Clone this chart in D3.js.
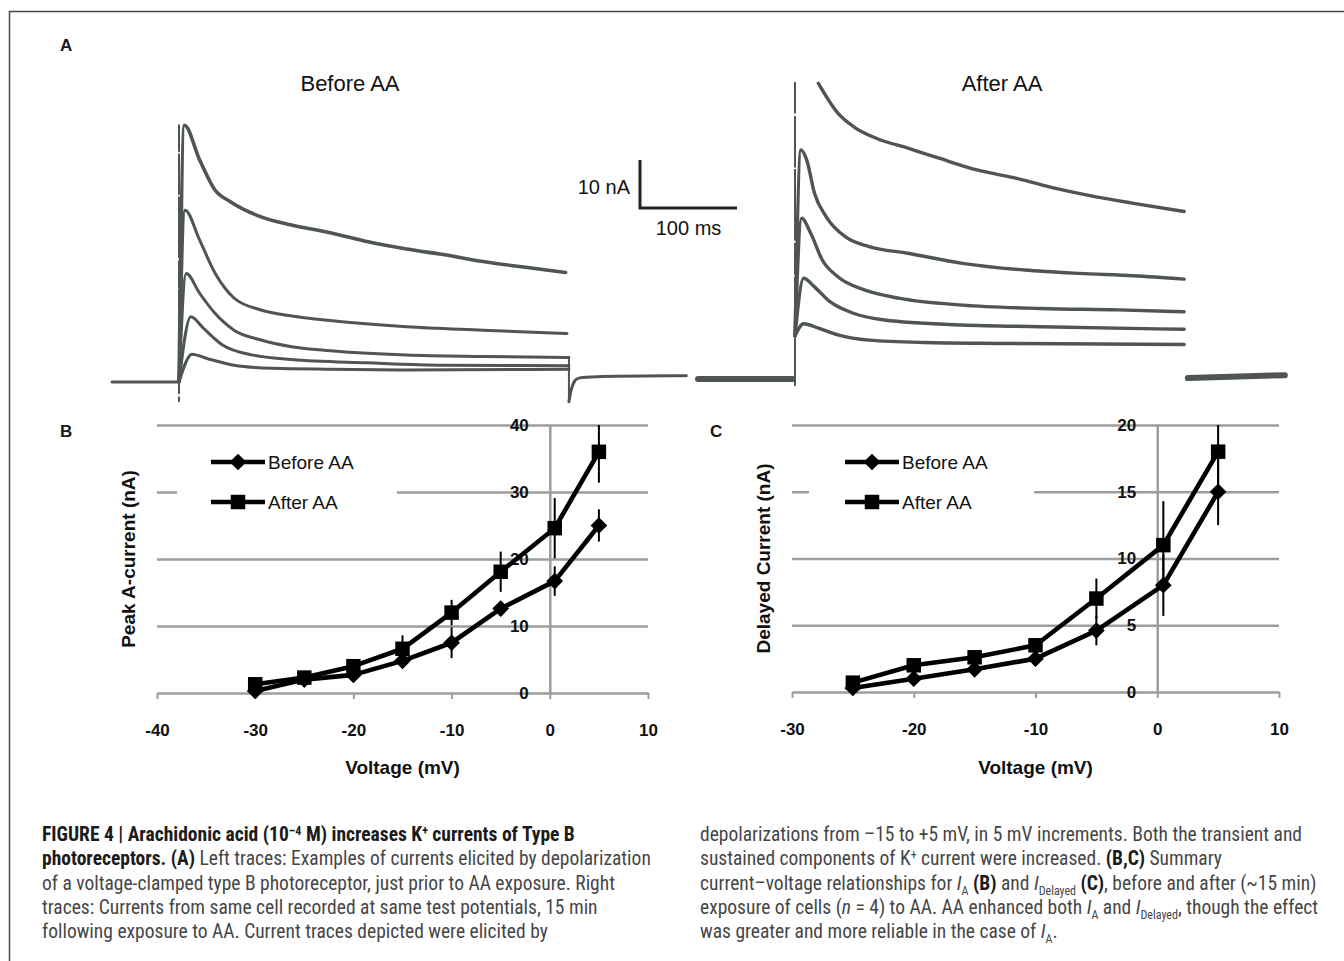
<!DOCTYPE html>
<html><head><meta charset="utf-8">
<script src="https://cdn.jsdelivr.net/npm/d3@7"></script>
<style>
body{margin:0;background:#fff;}
svg{display:block;font-family:"Liberation Sans",Arial,sans-serif;}
.cap{font-family:"Liberation Sans Narrow","Roboto Condensed","Arial Narrow",sans-serif;font-size:19.5px;fill:#464646;white-space:pre;}
</style></head><body>
<svg id="fig" width="1344" height="961"></svg>
<script>
// ---------- I-V summary data (panel B: peak A-current) ----------
const voltsB = [-30, -25, -20, -15, -10, -5, 0.5, 5];
const beforeB = [0.3, 2.0, 2.7, 4.8, 7.5, 12.6, 16.7, 25.0];
const afterB = [1.3, 2.3, 4.0, 6.6, 12.0, 18.1, 24.6, 36.0];
const errBeforeB = [0.3, 0.5, 0.5, 0.8, 2.3, 0.9, 2.2, 2.4];
const errAfterB = [0.5, 0.6, 0.6, 2.0, 1.9, 3.0, 4.5, 4.6];
const xTicksB = [-40, -30, -20, -10, 0, 10];
const yTicksB = [0, 10, 20, 30, 40];

// ---------- panel C: delayed current ----------
const voltsC = [-25, -20, -15, -10, -5, 0.5, 5];
const beforeC = [0.3, 1.0, 1.7, 2.5, 4.6, 8.0, 15.0];
const afterC = [0.7, 2.0, 2.6, 3.5, 7.0, 11.0, 18.0];
const errBeforeC = [0.2, 0.3, 0.3, 0.3, 1.1, 2.3, 2.5];
const errAfterC = [0.3, 0.4, 0.5, 0.4, 1.5, 3.3, 2.5];
const xTicksC = [-30, -20, -10, 0, 10];
const yTicksC = [0, 5, 10, 15, 20];

const seriesNames = ["Before AA", "After AA"];

// ---------- voltage-clamp current traces, [time ms, current nA] ----------
const beforeBaselinePre = [[-69, 0], [-1, 0]];
const beforeTraces = [
  [[0, 0], [5.5, 53.5], [21.2, 46.3], [37.1, 40], [52.6, 37.6], [84.5, 34.4], [116.1, 32.7], [155.7, 31.1], [194.8, 29.2], [234.5, 27.7], [274, 26.5], [313.4, 25.1], [353.1, 24], [398.5, 22.8]],
  [[0, 0], [6.2, 35.8], [21.2, 29.6], [37.1, 22.7], [56.7, 17.5], [84.5, 15], [116.1, 13.75], [155.7, 12.8], [234.5, 11.5], [313.4, 10.8], [400, 10.1]],
  [[0, 0], [7.4, 22.6], [21.2, 18.5], [37.1, 14.3], [56.7, 10.8], [84.5, 8.75], [116.1, 7.35], [155.7, 6.5], [234.5, 5.6], [313.4, 5.3], [402, 5.1]],
  [[0, 0], [12.2, 13.6], [25.2, 11.2], [44.9, 7.7], [76.3, 5.6], [116.1, 4.7], [194.8, 4.0], [274, 3.5], [402, 3.4]],
  [[0, 0], [13.4, 5.8], [28.9, 4.9], [56.7, 3.5], [96.3, 2.85], [155.7, 2.65], [234.5, 2.5], [402, 2.65]]
];
const beforeTail = [[402, -4.1], [404, -1.6], [408, 0.6], [414, 1.2], [523, 1.3]];
const beforeOnset = [[0, 53.5], [0, -4]];
const beforeOffset = [[402, 5.1], [402, -4.1]];

const afterBaselinePre = [[-100, 0], [-2, 0]];
const afterTraces = [
  [[24.1, 61.6], [44.2, 55.4], [60.2, 52.6], [84.3, 50.1], [116.4, 48.1], [148.5, 46], [188.6, 43.5], [228.7, 41.8], [268.9, 39.7], [309, 38], [349, 36.6], [401.2, 34.9]],
  [[0, 9], [6.1, 47.7], [12.1, 45.6], [20.1, 38.7], [32.2, 33.8], [52.2, 29.6], [76.3, 27.6], [116.4, 26.2], [172.6, 24.1], [236.7, 22.7], [292.8, 22], [349, 21.5], [401.2, 20.8]],
  [[0, 9], [6.9, 33.5], [16.1, 30.4], [28.1, 24.8], [44.2, 21.3], [72.3, 18.5], [108.2, 16.8], [172.6, 15.4], [252.8, 14.7], [333, 14.4], [401.2, 14]],
  [[0, 9], [8.9, 21], [20.1, 19.2], [36.1, 16.1], [60.2, 13.7], [92.3, 12.3], [172.6, 11.25], [252.8, 10.9], [401.2, 10.35]],
  [[0, 9], [8.9, 11.5], [24.1, 10.6], [44.2, 9.2], [76.3, 8.1], [132.5, 7.6], [212.7, 7.4], [401.2, 7.2]]
];
const afterBaselinePost = [[405, 0.2], [505, 0.8]];
const afterOnset = [[0, 61.7], [0, -1.3]];

// scale bar values
const barCurrent = 10;   // nA
const barTime = 100;     // ms

// ---------- drawing ----------
const svg = d3.select("#fig");
const GRID = "#9d9d9d";
const TRACE = "#4f5454";

// outer frame
svg.append("path").attr("d", "M9.5,961V11.5H1344").attr("fill", "none").attr("stroke", "#4a4a4a").attr("stroke-width", 1.5);

// panel letters
[["A", 60, 51], ["B", 60, 437], ["C", 710, 437]].forEach(([t, x, y]) => {
  svg.append("text").attr("x", x).attr("y", y).attr("font-weight", "bold").attr("font-size", 17).attr("fill", "#1a1a1a").text(t);
});

// trace titles
svg.append("text").attr("x", 350).attr("y", 91).attr("text-anchor", "middle").attr("font-size", 22).attr("fill", "#111").text(seriesNames[0]);
svg.append("text").attr("x", 1002).attr("y", 91).attr("text-anchor", "middle").attr("font-size", 22).attr("fill", "#111").text(seriesNames[1]);

// trace scales
const xL = d3.scaleLinear().domain([0, 100]).range([179, 276]);
const yL = d3.scaleLinear().domain([0, 10]).range([382, 334]);
const xR = d3.scaleLinear().domain([0, 100]).range([795, 892]);
const yR = d3.scaleLinear().domain([0, 10]).range([379, 331]);

function drawTrace(data, xs, ys, w, curve, dash) {
  const line = d3.line().x(d => xs(d[0])).y(d => ys(d[1])).curve(curve || d3.curveMonotoneX);
  svg.append("path").datum(data).attr("d", line).attr("fill", "none")
    .attr("stroke", TRACE).attr("stroke-width", w).attr("stroke-linejoin", "round").attr("stroke-linecap", "round")
    .attr("stroke-dasharray", dash || null);
}
const lin = d3.curveLinear;

// before-AA traces
drawTrace(beforeOnset, xL, yL, 2, lin, "26 3 40 3 60 4");
drawTrace(beforeOffset, xL, yL, 2, lin);
drawTrace(beforeBaselinePre, xL, yL, 3, lin);
beforeTraces.forEach((tr, i) => drawTrace(tr, xL, yL, i === 0 ? 3.6 : 3));
drawTrace(beforeTail, xL, yL, 3, d3.curveBasis);

// after-AA traces
drawTrace(afterOnset, xR, yR, 2, lin, "30 4 50 3 70 4");
drawTrace(afterBaselinePre, xR, yR, 6, lin);
afterTraces.forEach((tr, i) => drawTrace(tr, xR, yR, 3.4));
drawTrace(afterBaselinePost, xR, yR, 6, lin);

// scale bar (drawn through the before-AA trace scales)
const sbX = 640, sbY = 208;
const sbH = yL(0) - yL(barCurrent);
const sbW = xL(barTime) - xL(0);
svg.append("path").attr("d", `M${sbX},${sbY - sbH}V${sbY}H${sbX + sbW}`).attr("fill", "none").attr("stroke", "#222").attr("stroke-width", 3);
svg.append("text").attr("x", sbX - 10).attr("y", sbY - 14).attr("text-anchor", "end").attr("font-size", 20).attr("fill", "#111").text(`${barCurrent} nA`);
svg.append("text").attr("x", sbX + sbW / 2).attr("y", sbY + 27).attr("text-anchor", "middle").attr("font-size", 20).attr("fill", "#111").text(`${barTime} ms`);

// ---------- I-V panels ----------
function ivPanel(cfg) {
  const { x, y, volts, before, after, errB, errA, xTicks, yTicks, yTitle, yTitleX, legX, legBox, clipId } = cfg;
  const [x0, x1] = x.range();
  const [yb, yt] = y.range();
  const g = svg.append("g");

  // horizontal gridlines
  g.append("g").attr("transform", `translate(${x1},0)`)
    .call(d3.axisLeft(y).tickValues(yTicks.filter(d => d !== 0)).tickSize(x1 - x0).tickFormat(""))
    .call(s => s.select(".domain").remove())
    .selectAll("line").attr("stroke", GRID).attr("stroke-width", 2.5);

  // legend backdrop
  g.append("rect").attr("x", legBox[0]).attr("y", 445).attr("width", legBox[1] - legBox[0]).attr("height", 75).attr("fill", "#fff");

  // x axis
  const xa = g.append("g").attr("transform", `translate(0,${y(0)})`)
    .call(d3.axisBottom(x).tickValues(xTicks).tickSize(6).tickSizeOuter(0).tickPadding(25).tickFormat(d => String(d)));
  xa.select(".domain").attr("stroke", GRID).attr("stroke-width", 2.5);
  xa.selectAll(".tick line").attr("stroke", GRID).attr("stroke-width", 2);
  xa.selectAll("text").attr("font-size", 17).attr("font-weight", "bold").attr("fill", "#111").attr("font-family", "Liberation Sans, Arial, sans-serif");

  // y axis at V = 0
  const ya = g.append("g").attr("transform", `translate(${x(0)},0)`)
    .call(d3.axisLeft(y).tickValues(yTicks).tickSize(0).tickSizeOuter(0).tickPadding(21).tickFormat(d => String(d)));
  ya.select(".domain").attr("stroke", GRID).attr("stroke-width", 2.5);
  ya.selectAll("text").attr("font-size", 17).attr("font-weight", "bold").attr("fill", "#111").attr("font-family", "Liberation Sans, Arial, sans-serif");

  // axis titles
  g.append("text").attr("x", (x0 + x1) / 2).attr("y", 774).attr("text-anchor", "middle").attr("font-size", 19).attr("font-weight", "bold").attr("fill", "#111").text("Voltage (mV)");
  g.append("text").attr("transform", `translate(${yTitleX},${(yb + yt) / 2}) rotate(-90)`).attr("text-anchor", "middle").attr("dy", "0.35em")
    .attr("font-size", 19).attr("font-weight", "bold").attr("fill", "#111").text(yTitle);

  // clip for error bars
  svg.append("clipPath").attr("id", clipId).append("rect").attr("x", x0).attr("y", yt).attr("width", x1 - x0).attr("height", yb - yt);

  const series = [
    { vals: before, err: errB, sym: d3.symbol(d3.symbolSquare, 140), rot: 45 },
    { vals: after, err: errA, sym: d3.symbol(d3.symbolSquare, 210), rot: 0 }
  ];
  const eb = g.append("g").attr("clip-path", `url(#${clipId})`);
  series.forEach(s => {
    eb.selectAll(null).data(volts.map((v, i) => [v, s.vals[i], s.err[i]])).join("line")
      .attr("x1", d => x(d[0])).attr("x2", d => x(d[0]))
      .attr("y1", d => y(d[1] - d[2])).attr("y2", d => y(d[1] + d[2]))
      .attr("stroke", "#000").attr("stroke-width", 2);
  });
  const line = d3.line().x(d => x(d[0])).y(d => y(d[1]));
  series.forEach(s => {
    const pts = volts.map((v, i) => [v, s.vals[i]]);
    g.append("path").datum(pts).attr("d", line).attr("fill", "none").attr("stroke", "#000").attr("stroke-width", 4.6).attr("stroke-linejoin", "round");
    g.selectAll(null).data(pts).join("path").attr("d", s.sym)
      .attr("transform", d => `translate(${x(d[0])},${y(d[1])}) rotate(${s.rot})`).attr("fill", "#000");
  });

  // legend
  series.forEach((s, i) => {
    const ly = 462 + i * 40;
    g.append("line").attr("x1", legX).attr("x2", legX + 54).attr("y1", ly).attr("y2", ly).attr("stroke", "#000").attr("stroke-width", 4.6);
    g.append("path").attr("d", s.sym).attr("transform", `translate(${legX + 27},${ly}) rotate(${s.rot})`).attr("fill", "#000");
    g.append("text").attr("x", legX + 57).attr("y", ly + 7).attr("font-size", 19).attr("fill", "#111").text(seriesNames[i]);
  });
}

ivPanel({
  x: d3.scaleLinear().domain([-40, 10]).range([157, 648]),
  y: d3.scaleLinear().domain([0, 40]).range([693, 425]),
  volts: voltsB, before: beforeB, after: afterB, errB: errBeforeB, errA: errAfterB,
  xTicks: xTicksB, yTicks: yTicksB, yTitle: "Peak A-current (nA)", yTitleX: 128,
  legX: 211, legBox: [177, 397], clipId: "clipB"
});
ivPanel({
  x: d3.scaleLinear().domain([-30, 10]).range([792, 1279]),
  y: d3.scaleLinear().domain([0, 20]).range([692, 425]),
  volts: voltsC, before: beforeC, after: afterC, errB: errBeforeC, errA: errAfterC,
  xTicks: xTicksC, yTicks: yTicksC, yTitle: "Delayed Current (nA)", yTitleX: 763,
  legX: 845, legBox: [809, 1034], clipId: "clipC"
});

// ---------- caption ----------
function capLine(x, y, parts) {
  const t = svg.append("text").attr("class", "cap").attr("x", x).attr("y", y);
  let shift = 0;
  parts.forEach(p => {
    if (typeof p === "string") p = { t: p };
    const want = p.sup ? -6 : p.sub ? 5 : 0;
    const s = t.append("tspan").text(p.t);
    if (want - shift !== 0) s.attr("dy", want - shift);
    shift = want;
    if (p.sup || p.sub) s.attr("font-size", "12px");
    if (p.b) s.attr("font-weight", "bold").attr("fill", "#1b1b1b");
    if (p.i) s.attr("font-style", "italic");
  });
}
const L = 42, R = 700, c0 = 841, cs = 24.3;
capLine(L, c0, [{ t: "FIGURE 4 | Arachidonic acid (10", b: 1 }, { t: "–4", b: 1, sup: 1 }, { t: " M) increases K", b: 1 }, { t: "+", b: 1, sup: 1 }, { t: " currents of Type B", b: 1 }]);
capLine(L, c0 + cs, [{ t: "photoreceptors. (A)", b: 1 }, " Left traces: Examples of currents elicited by depolarization"]);
capLine(L, c0 + 2 * cs, ["of a voltage-clamped type B photoreceptor, just prior to AA exposure. Right"]);
capLine(L, c0 + 3 * cs, ["traces: Currents from same cell recorded at same test potentials, 15 min"]);
capLine(L, c0 + 4 * cs, ["following exposure to AA. Current traces depicted were elicited by"]);

capLine(R, c0, ["depolarizations from –15 to +5 mV, in 5 mV increments. Both the transient and"]);
capLine(R, c0 + cs, ["sustained components of K", { t: "+", sup: 1 }, " current were increased. ", { t: "(B,C)", b: 1 }, " Summary"]);
capLine(R, c0 + 2 * cs, ["current–voltage relationships for ", { t: "I", i: 1 }, { t: "A", sub: 1 }, " ", { t: "(B)", b: 1 }, " and ", { t: "I", i: 1 }, { t: "Delayed", sub: 1 }, " ", { t: "(C)", b: 1 }, ", before and after (~15 min)"]);
capLine(R, c0 + 3 * cs, ["exposure of cells (", { t: "n", i: 1 }, " = 4) to AA. AA enhanced both ", { t: "I", i: 1 }, { t: "A", sub: 1 }, " and ", { t: "I", i: 1 }, { t: "Delayed", sub: 1 }, ", though the effect"]);
capLine(R, c0 + 4 * cs, ["was greater and more reliable in the case of ", { t: "I", i: 1 }, { t: "A", sub: 1 }, "."]);
</script></body></html>
